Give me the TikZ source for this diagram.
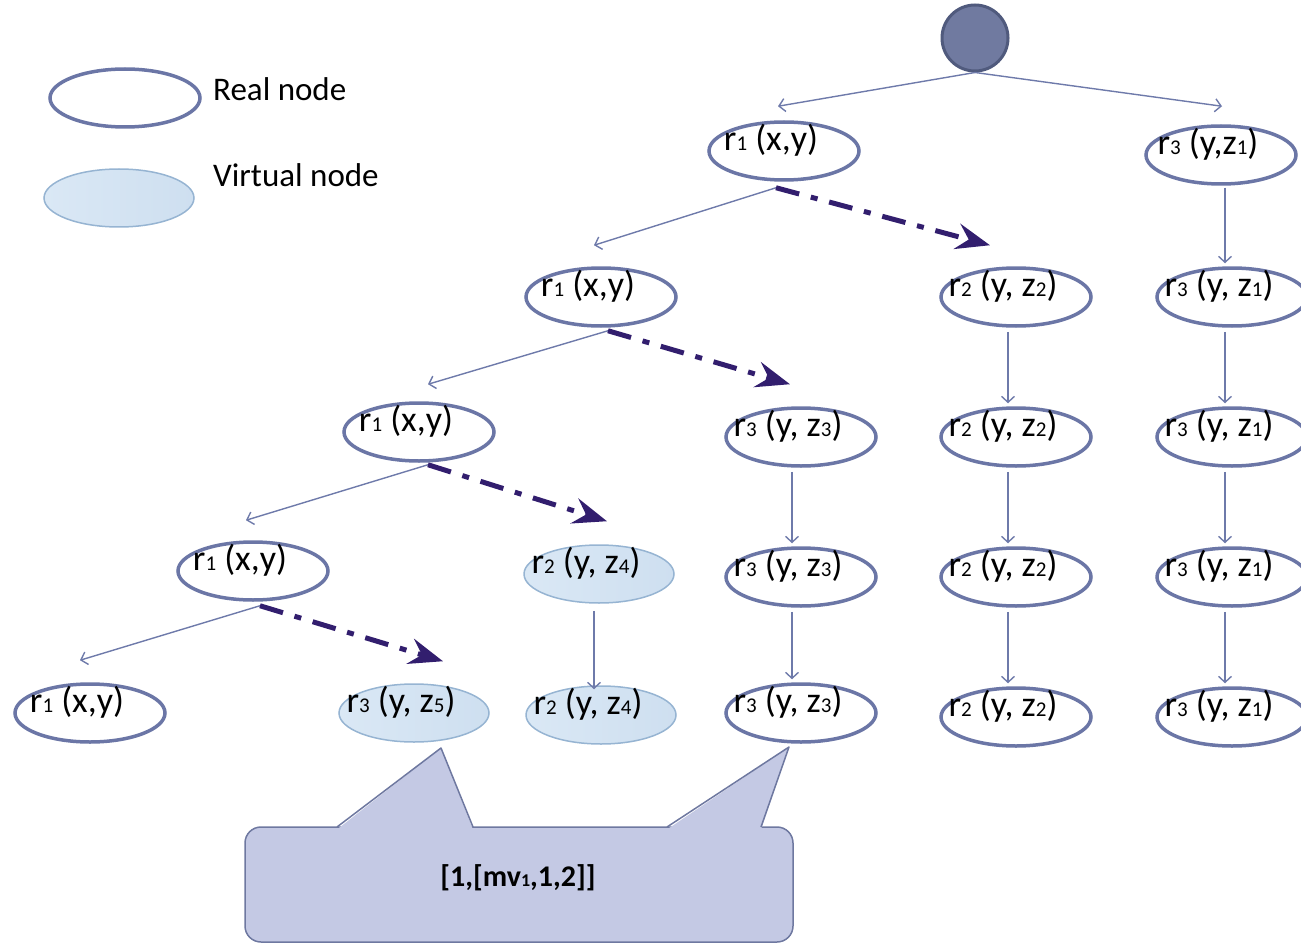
\documentclass[tikz,border=0pt]{standalone}
\usepackage{fontspec}
\setmainfont{Carlito}
\usetikzlibrary{arrows.meta,calc,shapes.geometric}
\definecolor{realedge}{RGB}{107,118,166}
\definecolor{thincol}{RGB}{110,122,170}
\definecolor{ddcol}{RGB}{50,30,110}
\definecolor{virtA}{RGB}{218,232,245}
\definecolor{virtB}{RGB}{206,223,240}
\definecolor{virtedge}{RGB}{150,180,210}
\definecolor{rootfill}{RGB}{112,122,160}
\definecolor{rootedge}{RGB}{80,90,125}
\definecolor{callfill}{RGB}{196,201,228}
\definecolor{calledge}{RGB}{110,120,160}
\newcommand\sbs[1]{{\fontsize{21pt}{21pt}\selectfont #1}}
\tikzset{
  x=1pt, y=-1pt,
  every label/.style={font=\fontsize{36pt}{38pt}\selectfont, inner sep=0pt},
  real/.style={ellipse, draw=realedge, line width=3.5pt, fill=white,
    minimum width=150pt, minimum height=58pt, inner sep=0pt},
  virt/.style={ellipse, draw=virtedge, line width=1.5pt, left color=virtA, right color=virtB,
    minimum width=150pt, minimum height=58pt, inner sep=0pt},
  txt/.style={label={[xshift=-13pt,yshift=11pt]center:#1}},
  tarrow/.style={draw=thincol, line width=1.4pt, -{Straight Barb[length=6pt,width=13pt]}},
  dd/.style={draw=ddcol, line width=5pt, dash pattern=on 24pt off 12pt on 7pt off 12pt,
    -{Stealth[length=34pt,width=26pt,inset=12pt]}},
  legtext/.style={anchor=base west, inner sep=0pt, font=\fontsize{33pt}{35pt}\selectfont}
}
\begin{document}
\begin{tikzpicture}
\useasboundingbox (0,0) rectangle (1301,944);
\clip (0,0) rectangle (1301,944);
% legend
\node[real] (legR) at (125,98) {};
\node[legtext] (legRt) at (213,101) {Real node};
\node[virt] (legV) at (119,198) {};
\node[legtext] (legVt) at (213,187) {Virtual node};
% root
\node[circle, draw=rootedge, line width=3pt, fill=rootfill, minimum size=66pt] (root) at (975,38) {};
% row 1
\node[real, txt={r\sbs1 (x,y)}] (A1) at (784,151) {};
\node[real, txt={r\sbs3 (y,z\sbs1)}] (B1) at (1221,155) {};
% row 2
\node[real, txt={r\sbs1 (x,y)}] (R2a) at (601,297) {};
\node[real, txt={r\sbs2 (y, z\sbs2)}] (R2b) at (1016,297) {};
\node[real, txt={r\sbs3 (y, z\sbs1)}] (R2c) at (1232,297) {};
% row 3
\node[real, txt={r\sbs1 (x,y)}] (R3a) at (419,432) {};
\node[real, txt={r\sbs3 (y, z\sbs3)}] (R3b) at (801,437) {};
\node[real, txt={r\sbs2 (y, z\sbs2)}] (R3c) at (1016,437) {};
\node[real, txt={r\sbs3 (y, z\sbs1)}] (R3d) at (1232,437) {};
% row 4
\node[real, txt={r\sbs1 (x,y)}] (R4a) at (253,571) {};
\node[virt, txt={r\sbs2 (y, z\sbs4)}] (R4b) at (599,574) {};
\node[real, txt={r\sbs3 (y, z\sbs3)}] (R4c) at (801,577) {};
\node[real, txt={r\sbs2 (y, z\sbs2)}] (R4d) at (1016,577) {};
\node[real, txt={r\sbs3 (y, z\sbs1)}] (R4e) at (1232,577) {};
% row 5
\node[real, txt={r\sbs1 (x,y)}] (R5a) at (90,713) {};
\node[virt, txt={r\sbs3 (y, z\sbs5)}] (R5b) at (414,713) {};
\node[virt, txt={r\sbs2 (y, z\sbs4)}] (R5c) at (601,715) {};
\node[real, txt={r\sbs3 (y, z\sbs3)}] (R5d) at (801,713) {};
\node[real, txt={r\sbs2 (y, z\sbs2)}] (R5e) at (1016,717) {};
\node[real, txt={r\sbs3 (y, z\sbs1)}] (R5f) at (1232,717) {};
% root arrows
\draw[tarrow] (root.south) -- ($(A1.north)+(-6,-14)$);
\draw[tarrow] (root.south) -- ($(B1.north)+(1,-18)$);
% diagonal tree
\draw[tarrow] ($(A1.south)+(-8,6)$) -- ($(R2a.north)+(-7,-21)$);
\draw[dd] ($(A1.south)+(-8,6)$) -- ($(R2b.north)+(-26,-21)$);
\draw[tarrow] ($(R2a.south)+(7,3)$) -- ($(R3a.north)+(9,-17)$);
\draw[dd] ($(R2a.south)+(7,3)$) -- ($(R3b.north)+(-11,-22)$);
\draw[tarrow] ($(R3a.south)+(9,2)$) -- ($(R4a.north)+(-7,-20)$);
\draw[dd] ($(R3a.south)+(9,2)$) -- ($(R4b.north)+(8,-23)$);
\draw[tarrow] ($(R4a.south)+(7,4)$) -- ($(R5a.north)+(-10,-22)$);
\draw[dd] ($(R4a.south)+(7,4)$) -- ($(R5b.north)+(29,-22)$);
% vertical chains
\draw[tarrow] ($(B1.south)+(4,2)$) -- ($(R2c.north)+(-7,-3)$);
\draw[tarrow] ($(R2c.south)+(-7,4)$) -- ($(R3d.north)+(-7,-3)$);
\draw[tarrow] ($(R3d.south)+(-7,4)$) -- ($(R4e.north)+(-7,-3)$);
\draw[tarrow] ($(R4e.south)+(-7,4)$) -- ($(R5f.north)+(-7,-3)$);
\draw[tarrow] ($(R2b.south)+(-8,4)$) -- ($(R3c.north)+(-8,-3)$);
\draw[tarrow] ($(R3c.south)+(-8,4)$) -- ($(R4d.north)+(-8,-3)$);
\draw[tarrow] ($(R4d.south)+(-8,4)$) -- ($(R5e.north)+(-8,-3)$);
\draw[tarrow] ($(R3b.south)+(-9,4)$) -- ($(R4c.north)+(-9,-3)$);
\draw[tarrow] ($(R4c.south)+(-9,4)$) -- ($(R5d.north)+(-9,-3)$);
\draw[tarrow] ($(R4b.south)+(-5,7)$) -- ($(R5c.north)+(-7,4)$);
% callout
\draw[draw=calledge, line width=1.5pt, fill=callfill, rounded corners=16pt] (245,827) rectangle (793,942);
\fill[callfill] (337,829.5) -- (441,748) -- (473,829.5) -- cycle;
\fill[callfill] (667,829.5) -- (789,747) -- (761,829.5) -- cycle;
\draw[draw=calledge, line width=1.5pt, line join=round] (337,827) -- (441,748) -- (473,827);
\draw[draw=calledge, line width=1.5pt, line join=round] (667,827) -- (789,747) -- (761,827);
\node[font=\fontsize{30pt}{32pt}\selectfont\bfseries] (ctext) at (518,878) {[1,[mv{\fontsize{18pt}{18pt}\selectfont 1},1,2]]};
\end{tikzpicture}
\end{document}
